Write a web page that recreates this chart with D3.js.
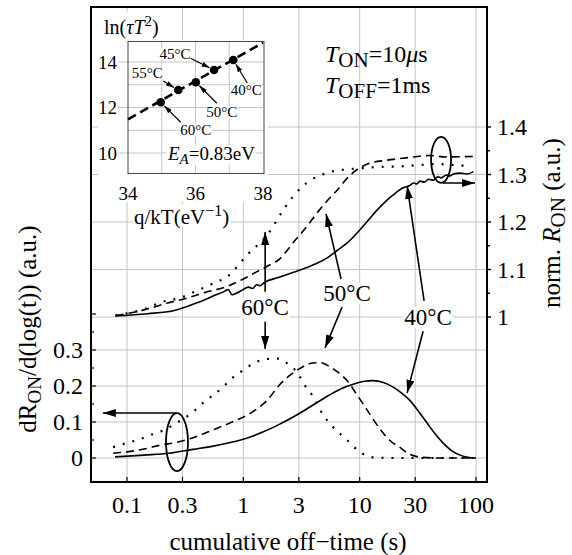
<!DOCTYPE html>
<html>
<head>
<meta charset="utf-8">
<script src="https://cdn.jsdelivr.net/npm/d3@7"></script>
<style>
  body { margin: 0; background: #fff; }
  svg { font-family: "Liberation Serif", "Times New Roman", serif; }
</style>
</head>
<body>
<svg id="chart" width="572" height="555"></svg>
<script>
// ---- data ----
// upper curves: norm. R_ON vs cumulative off-time (s)
var tR40 = [0.079, 0.15, 0.25, 0.4, 0.55, 0.7, 0.74, 0.8, 0.87, 1.0, 1.1, 1.2, 1.3, 1.4, 1.5, 2.0, 2.7, 3.5, 4.3, 5.3, 6.4, 8.0, 9.5, 11.5, 14.1, 17, 19.4, 23.6, 27, 29, 31, 33, 36, 39, 43, 47, 50, 56, 60, 64, 73, 84, 95]
var rOn40 = [1.002, 1.007, 1.013, 1.03, 1.044, 1.055, 1.058, 1.047, 1.05, 1.058, 1.063, 1.06, 1.068, 1.066, 1.072, 1.083, 1.094, 1.104, 1.113, 1.125, 1.14, 1.158, 1.177, 1.2, 1.225, 1.245, 1.257, 1.272, 1.277, 1.282, 1.28, 1.286, 1.284, 1.29, 1.288, 1.295, 1.293, 1.299, 1.297, 1.301, 1.303, 1.301, 1.306]

var tR50 = [0.08, 0.14, 0.22, 0.33, 0.49, 0.7, 1.0, 1.3, 1.7, 2.0, 2.8, 3.5, 4.5, 5.5, 6.4, 8, 10, 12.3, 17, 25, 40, 55, 95]
var rOn50 = [1.003, 1.015, 1.029, 1.04, 1.053, 1.063, 1.08, 1.095, 1.11, 1.12, 1.162, 1.19, 1.225, 1.25, 1.267, 1.295, 1.314, 1.324, 1.33, 1.335, 1.34, 1.337, 1.338]

var tR60 = [0.08, 0.15, 0.19, 0.3, 0.38, 0.49, 0.59, 0.72, 0.82, 0.94, 1.08, 1.31, 1.6, 1.9, 2.2, 2.7, 3.2, 3.9, 4.8, 5.9, 7.2, 10, 15, 22, 33, 46, 64, 84]
var rOn60 = [1.004, 1.019, 1.03, 1.042, 1.053, 1.065, 1.074, 1.084, 1.097, 1.114, 1.131, 1.15, 1.172, 1.2, 1.225, 1.255, 1.274, 1.29, 1.3, 1.307, 1.31, 1.313, 1.316, 1.317, 1.32, 1.322, 1.32, 1.318]

// lower curves: dR_ON/d(log(t))
var tD40 = [0.079, 0.14, 0.23, 0.37, 0.55, 0.77, 1.0, 1.47, 2.0, 2.9, 4.0, 5.5, 7.0, 8.8, 11, 13, 16, 19.4, 23, 27, 32, 38, 45, 52, 62, 73, 85, 98]
var dR40 = [0.003, 0.008, 0.013, 0.024, 0.033, 0.043, 0.052, 0.072, 0.092, 0.12, 0.148, 0.175, 0.193, 0.205, 0.213, 0.215, 0.21, 0.197, 0.18, 0.16, 0.13, 0.097, 0.065, 0.042, 0.02, 0.008, 0.002, 0.0]

var tD50 = [0.076, 0.1, 0.15, 0.19, 0.27, 0.36, 0.55, 0.8, 1.2, 1.6, 2.07, 2.9, 3.97, 4.6, 5.25, 6.4, 7.8, 9.5, 11.6, 15, 18, 22, 27, 32, 45, 100]
var dR50 = [0.013, 0.017, 0.027, 0.035, 0.044, 0.055, 0.078, 0.1, 0.128, 0.16, 0.205, 0.244, 0.264, 0.265, 0.258, 0.24, 0.215, 0.175, 0.133, 0.08, 0.05, 0.03, 0.01, 0.003, 0.0, 0.0]

var tD60 = [0.076, 0.1, 0.124, 0.16, 0.2, 0.25, 0.37, 0.45, 0.67, 0.8, 1.0, 1.2, 1.6, 2.0, 2.4, 2.9, 3.4, 3.9, 4.85, 5.9, 7.8, 10, 13, 20, 100]
var dR60 = [0.03, 0.042, 0.05, 0.064, 0.075, 0.092, 0.128, 0.153, 0.197, 0.222, 0.244, 0.261, 0.275, 0.276, 0.262, 0.238, 0.2, 0.175, 0.12, 0.086, 0.05, 0.017, 0.002, 0.0, 0.0]

// axes
var xTicks = [0.1, 0.3, 1, 3, 10, 30, 100]
var xTickLabels = ["0.1", "0.3", "1", "3", "10", "30", "100"]
var leftTicks = [0, 0.1, 0.2, 0.3]
var rightTicks = [1, 1.1, 1.2, 1.3, 1.4]
var rightTickLabels = ["1", "1.1", "1.2", "1.3", "1.4"]

// inset: Arrhenius plot
var qkT = [34.97, 35.49, 36.01, 36.55, 37.12]
var lnTauT2 = [12.23, 12.77, 13.11, 13.65, 14.09]
var insetTemps = ["60°C", "55°C", "50°C", "45°C", "40°C"]
var fitQ = [34, 38]
var fitLn = [11.48, 14.85]
var insetXTicks = [34, 36, 38]
var insetYTicks = [10, 12, 14]

// ---- layout ----
var svg = d3.select("#chart")
var frame = { l: 91, r: 487, t: 7, b: 482 }
var x = d3.scaleLog().domain([0.1, 100]).range([127, 476])
var yL = d3.scaleLinear().domain([0, 0.3]).range([458, 350])
var yR = d3.scaleLinear().domain([1, 1.4]).range([317, 127])
var grid = "#c4c4c4"

// arrow heads
var defs = svg.append("defs")
defs.append("marker").attr("id", "arr")
  .attr("markerUnits", "userSpaceOnUse")
  .attr("markerWidth", 14).attr("markerHeight", 10)
  .attr("refX", 13).attr("refY", 4).attr("orient", "auto")
  .append("path").attr("d", "M0,0 L13,4 L0,8 Z").attr("fill", "#000")
defs.append("marker").attr("id", "arrS")
  .attr("markerUnits", "userSpaceOnUse")
  .attr("markerWidth", 9).attr("markerHeight", 6)
  .attr("refX", 8).attr("refY", 2.5).attr("orient", "auto")
  .append("path").attr("d", "M0,0 L8,2.5 L0,5 Z").attr("fill", "#000")

// text with sub / superscripts, shift in px (positive = down)
function rich(text, parts) {
  var shift = 0
  parts.forEach(function (p) {
    var s = p.sh || 0
    var ts = text.append("tspan").text(p.t).attr("dy", s - shift)
    shift = s
    if (p.i) ts.attr("font-style", "italic")
    if (p.fs) ts.attr("font-size", p.fs)
  })
  return text
}

// white box behind a text
function bg(text, pad) {
  var b = text.node().getBBox()
  d3.select(text.node().parentNode).insert("rect", function () { return text.node() })
    .attr("x", b.x - pad).attr("y", b.y + 2).attr("width", b.width + 2 * pad).attr("height", b.height - 4)
    .attr("fill", "#fff")
}

// ---- grid ----
var g = svg.append("g")
g.selectAll("line.vx").data(xTicks).join("line")
  .attr("x1", d => x(d)).attr("x2", d => x(d))
  .attr("y1", frame.t).attr("y2", frame.b)
  .attr("stroke", grid).attr("stroke-width", 1)
g.selectAll("line.hl").data(leftTicks).join("line")
  .attr("x1", frame.l).attr("x2", frame.r)
  .attr("y1", d => yL(d)).attr("y2", d => yL(d))
  .attr("stroke", grid).attr("stroke-width", 1)
g.selectAll("line.hr").data(rightTicks).join("line")
  .attr("class", "hr")
  .attr("x1", frame.l).attr("x2", frame.r)
  .attr("y1", d => yR(d)).attr("y2", d => yR(d))
  .attr("stroke", grid).attr("stroke-width", 1)

// ---- curves ----
var line = d3.line().curve(d3.curveMonotoneX)
function curve(ts, vs, ys, dash) {
  svg.append("path")
    .attr("d", line(ts.map((t, i) => [x(t), ys(vs[i])])))
    .attr("fill", "none").attr("stroke", "#000")
    .attr("stroke-width", dash == "dot" ? 2.2 : 1.6)
    .attr("stroke-dasharray", dash == "dash" ? "8,5" : dash == "dot" ? "2,8" : null)
}
curve(tR40, rOn40, yR, "solid")
curve(tR50, rOn50, yR, "dash")
curve(tR60, rOn60, yR, "dot")
curve(tD40, dR40, yL, "solid")
curve(tD50, dR50, yL, "dash")
curve(tD60, dR60, yL, "dot")

// ---- annotations: arrows + loops ----
function P(t, v, ax) { return [x(t), (ax == "L" ? yL : yR)(v)] }
var arrows = [
  [P(1.54, 1.053), P(1.54, 1.179)],
  [P(1.54, 0.99), P(1.54, 0.303, "L")],
  [P(6.92, 1.08), P(5.14, 1.217)],
  [P(7.06, 1.021), P(5.04, 0.306, "L")],
  [P(35.8, 1.034), P(25.6, 1.276)],
  [P(35.1, 0.97), P(25.6, 0.181, "L")],
  [P(52, 1.282), P(98, 1.282)],
  [P(0.269, 0.125, "L"), P(0.062, 0.125, "L")]
]
svg.selectAll("line.arrow").data(arrows).join("line")
  .attr("x1", d => d[0][0]).attr("y1", d => d[0][1])
  .attr("x2", d => d[1][0]).attr("y2", d => d[1][1])
  .attr("stroke", "#000").attr("stroke-width", 1.6)
  .attr("marker-end", "url(#arr)")

var loops = [[P(50.1, 1.331), 10, 23], [P(0.269, 0.044, "L"), 11, 29]]
svg.selectAll("ellipse.loop").data(loops).join("ellipse")
  .attr("cx", d => d[0][0]).attr("cy", d => d[0][1])
  .attr("rx", d => d[1]).attr("ry", d => d[2])
  .attr("fill", "none").attr("stroke", "#000").attr("stroke-width", 1.8)

var tempLabels = [["60°C", P(1.54, 1.021)], ["50°C", P(7.8, 1.051)], ["40°C", P(38.7, 1.0)]]
tempLabels.forEach(function (d) {
  var t = svg.append("text").attr("x", d[1][0]).attr("y", d[1][1]).attr("dy", "0.35em")
    .attr("text-anchor", "middle").attr("font-size", 23).text(d[0])
  bg(t, 1)
})

// ---- frame and ticks ----
svg.append("rect").attr("x", frame.l).attr("y", frame.t)
  .attr("width", frame.r - frame.l).attr("height", frame.b - frame.t)
  .attr("fill", "none").attr("stroke", "#000").attr("stroke-width", 2)

svg.selectAll("line.bt").data(xTicks).join("line")
  .attr("x1", d => x(d)).attr("x2", d => x(d))
  .attr("y1", frame.b).attr("y2", frame.b - 5)
  .attr("stroke", "#000").attr("stroke-width", 1.2)
svg.selectAll("line.lt").data(d3.range(0, 0.401, 0.05)).join("line")
  .attr("x1", frame.l).attr("x2", (d, i) => frame.l + (i % 2 ? 3 : 5))
  .attr("y1", d => yL(d)).attr("y2", d => yL(d))
  .attr("stroke", "#000").attr("stroke-width", 1.2)
svg.selectAll("line.rt").data(d3.range(1, 1.401, 0.05)).join("line")
  .attr("x1", frame.r).attr("x2", (d, i) => frame.r + (i % 2 ? 3 : 4))
  .attr("y1", d => yR(d)).attr("y2", d => yR(d))
  .attr("stroke", "#000").attr("stroke-width", 1.4)

svg.selectAll("text.xt").data(xTicks).join("text")
  .attr("x", d => x(d)).attr("y", 505).attr("dy", "0.35em")
  .attr("text-anchor", "middle").attr("font-size", 24)
  .text((d, i) => xTickLabels[i])
svg.selectAll("text.lt").data(leftTicks).join("text")
  .attr("x", 83).attr("y", d => yL(d)).attr("dy", "0.35em")
  .attr("text-anchor", "end").attr("font-size", 24)
  .text(d => d)
svg.selectAll("text.rt").data(rightTicks).join("text")
  .attr("x", 497).attr("y", d => yR(d)).attr("dy", "0.35em")
  .attr("font-size", 24)
  .text((d, i) => rightTickLabels[i])

// axis titles
svg.append("text").attr("x", 288).attr("y", 541).attr("dy", "0.35em")
  .attr("text-anchor", "middle").attr("font-size", 25)
  .text("cumulative off\u2212time (s)")
rich(svg.append("text").attr("transform", "translate(36,329) rotate(-90)")
  .attr("text-anchor", "middle").attr("font-size", 25),
  [{ t: "dR" }, { t: "ON", fs: 19, sh: 5 }, { t: "/d(log(t)) (a.u.)" }])
rich(svg.append("text").attr("transform", "translate(560,223) rotate(-90)")
  .attr("text-anchor", "middle").attr("font-size", 25),
  [{ t: "norm. " }, { t: "R", i: true }, { t: "ON", fs: 21, sh: 5 }, { t: " (a.u.)" }])

// pulse conditions
rich(svg.append("text").attr("x", 325).attr("y", 62).attr("font-size", 24),
  [{ t: "T", i: true }, { t: "ON", fs: 21, sh: 5 }, { t: "=10" }, { t: "\u03bc", i: true }, { t: "s" }])
rich(svg.append("text").attr("x", 325).attr("y", 93).attr("font-size", 24),
  [{ t: "T", i: true }, { t: "OFF", fs: 21, sh: 5 }, { t: "=1ms" }])

// ---- inset ----
var xI = d3.scaleLinear().domain([34, 38]).range([128, 263])
var yI = d3.scaleLinear().domain([10, 14]).range([153, 62])
var ins = svg.append("g")
ins.append("rect").attr("x", 98).attr("y", 12).attr("width", 78).attr("height", 190).attr("fill", "#fff")
ins.append("rect").attr("x", 98).attr("y", 40).attr("width", 170).attr("height", 162).attr("fill", "#fff")

ins.selectAll("line.ivx").data([35, 36, 37]).join("line")
  .attr("x1", d => xI(d)).attr("x2", d => xI(d))
  .attr("y1", yI(14.9)).attr("y2", yI(9.1))
  .attr("stroke", grid)
ins.selectAll("line.ihy").data(d3.range(10, 15)).join("line")
  .attr("x1", d => insetYTicks.includes(d) ? xI(34) - 10 : xI(34)).attr("x2", xI(38))
  .attr("y1", d => yI(d)).attr("y2", d => yI(d))
  .attr("stroke", grid)
ins.append("rect").attr("x", xI(34)).attr("y", yI(14.9))
  .attr("width", xI(38) - xI(34) + 1).attr("height", yI(9.1) - yI(14.9))
  .attr("fill", "none").attr("stroke", "#444").attr("stroke-width", 1)

ins.append("line")
  .attr("x1", xI(fitQ[0])).attr("y1", yI(fitLn[0]))
  .attr("x2", xI(fitQ[1])).attr("y2", yI(fitLn[1]))
  .attr("stroke", "#000").attr("stroke-width", 2.6).attr("stroke-dasharray", "9,5")
ins.selectAll("circle").data(qkT).join("circle")
  .attr("cx", d => xI(d)).attr("cy", (d, i) => yI(lnTauT2[i])).attr("r", 4.3)
  .attr("fill", "#000")

// label offsets (px) from each point: label centre and arrow tail
var insetOff = [[35, 27, 20, 20], [-31, -17, -15, -9], [26, 30, 21, 21], [-39, -16, -24, -12], [13, 30, 14, 23]]
qkT.forEach(function (q, i) {
  var px = xI(q), py = yI(lnTauT2[i]), o = insetOff[i]
  var len = Math.hypot(o[2], o[3])
  ins.append("line")
    .attr("x1", px + o[2]).attr("y1", py + o[3])
    .attr("x2", px + o[2] / len * 5).attr("y2", py + o[3] / len * 5)
    .attr("stroke", "#000").attr("stroke-width", 1.2).attr("marker-end", "url(#arrS)")
  var t = ins.append("text").attr("x", px + o[0]).attr("y", py + o[1]).attr("dy", "0.35em")
    .attr("text-anchor", "middle").attr("font-size", 15).text(insetTemps[i])
  bg(t, 0)
})

ins.selectAll("text.iyt").data(insetYTicks).join("text")
  .attr("x", 117).attr("y", d => yI(d)).attr("dy", "0.35em")
  .attr("text-anchor", "end").attr("font-size", 19).text(d => d)
ins.selectAll("text.ixt").data(insetXTicks).join("text")
  .attr("x", d => xI(d)).attr("y", 193).attr("dy", "0.35em")
  .attr("text-anchor", "middle").attr("font-size", 19).text(d => d)

rich(ins.append("text").attr("x", 104).attr("y", 34).attr("font-size", 20),
  [{ t: "ln(" }, { t: "\u03c4T", i: true }, { t: "2", fs: 15, sh: -8 }, { t: ")" }])
var qk = rich(ins.append("text").attr("x", 134).attr("y", 224).attr("font-size", 21),
  [{ t: "q/kT(eV" }, { t: "\u22121", fs: 16, sh: -8 }, { t: ")" }])
bg(qk, 1)
var ea = rich(ins.append("text").attr("x", 168).attr("y", 160).attr("font-size", 19),
  [{ t: "E", i: true }, { t: "A", i: true, fs: 15, sh: 4 }, { t: "=0.83eV" }])
bg(ea, 1)
</script>
</body>
</html>
